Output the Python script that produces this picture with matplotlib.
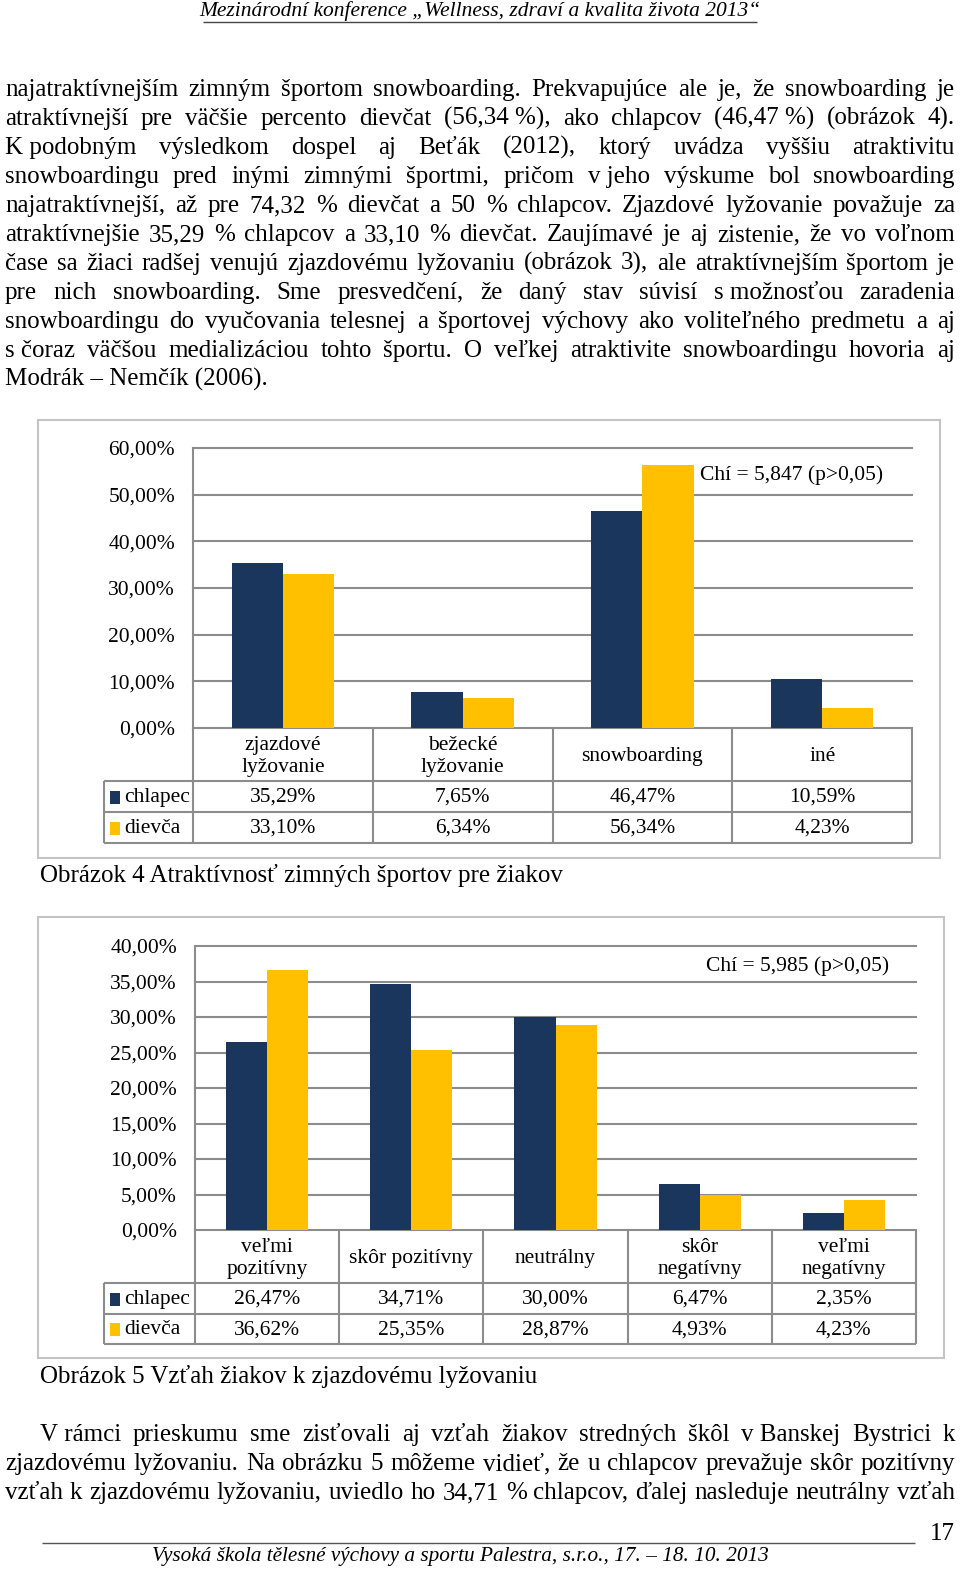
import matplotlib
matplotlib.use('Agg')
import matplotlib.pyplot as plt
from matplotlib.patches import Rectangle
import numpy as np

plt.rcParams['font.family'] = ['Liberation Serif', 'DejaVu Serif']

W, H = 960, 1569
NAVY = '#1b365d'
GOLD = '#ffc000'
GRID = '#8c8c8c'
BODY = 18
CHART_FS = 15.5
NB = '\u00a0'

# --- data ---
series_names = ['chlapec', 'dievča']

sports = ['zjazdové\nlyžovanie', 'bežecké\nlyžovanie', 'snowboarding', 'iné']
sports_boys = [35.29, 7.65, 46.47, 10.59]
sports_girls = [33.10, 6.34, 56.34, 4.23]
sports_chi = 'Chí = 5,847 (p>0,05)'

attitude = ['veľmi\npozitívny', 'skôr pozitívny', 'neutrálny', 'skôr\nnegatívny', 'veľmi\nnegatívny']
attitude_boys = [26.47, 34.71, 30.00, 6.47, 2.35]
attitude_girls = [36.62, 25.35, 28.87, 4.93, 4.23]
attitude_chi = 'Chí = 5,985 (p>0,05)'

header = 'Mezinárodní konference „Wellness, zdraví a kvalita života 2013“'
footer = 'Vysoká škola tělesné výchovy a sportu Palestra, s.r.o., 17. – 18. 10. 2013'
page_no = '17'
caption4 = 'Obrázok 4 Atraktívnosť zimných športov pre žiakov'
caption5 = 'Obrázok 5 Vzťah žiakov k zjazdovému lyžovaniu'

para1 = [
    'najatraktívnejším zimným športom snowboarding. Prekvapujúce ale je, že snowboarding je',
    'atraktívnejší pre väčšie percento dievčat (56,34' + NB + '%), ako chlapcov (46,47' + NB + '%) (obrázok 4).',
    'K' + NB + 'podobným výsledkom dospel aj Beťák (2012), ktorý uvádza vyššiu atraktivitu',
    'snowboardingu pred inými zimnými športmi, pričom v' + NB + 'jeho výskume bol snowboarding',
    'najatraktívnejší, až pre 74,32 % dievčat a 50 % chlapcov. Zjazdové lyžovanie považuje za',
    'atraktívnejšie 35,29 % chlapcov a 33,10 % dievčat. Zaujímavé je aj zistenie, že vo voľnom',
    'čase sa žiaci radšej venujú zjazdovému lyžovaniu (obrázok 3), ale atraktívnejším športom je',
    'pre nich snowboarding. Sme presvedčení, že daný stav súvisí s' + NB + 'možnosťou zaradenia',
    'snowboardingu do vyučovania telesnej a športovej výchovy ako voliteľného predmetu a aj',
    's' + NB + 'čoraz väčšou medializáciou tohto športu. O veľkej atraktivite snowboardingu hovoria aj',
    'Modrák – Nemčík (2006).',
]
para2 = [
    'V' + NB + 'rámci prieskumu sme zisťovali aj vzťah žiakov stredných škôl v' + NB + 'Banskej Bystrici k',
    'zjazdovému lyžovaniu. Na obrázku 5 môžeme vidieť, že u chlapcov prevažuje skôr pozitívny',
    'vzťah k zjazdovému lyžovaniu, uviedlo ho 34,71 % chlapcov, ďalej nasleduje neutrálny vzťah',
]

fig = plt.figure(figsize=(W / 100, H / 100), dpi=100)
page = fig.add_axes([0, 0, 1, 1])
page.set_xlim(0, W)
page.set_ylim(H, 0)
page.axis('off')
renderer = fig.canvas.get_renderer()


def pct(v):
    return f'{v:.2f}%'.replace('.', ',')


def justify(y, line, x0, x1, last=False):
    if last:
        page.text(x0, y, line, fontsize=BODY, va='baseline')
        return
    words = line.split(' ')
    texts = [page.text(0, y, w, fontsize=BODY, va='baseline') for w in words]
    widths = [t.get_window_extent(renderer).width for t in texts]
    gap = (x1 - x0 - sum(widths)) / (len(words) - 1)
    x = x0
    for t, wd in zip(texts, widths):
        t.set_x(x)
        x += wd + gap


def draw_chart(box, plot, cats, boys, girls, ymax, step, chi, chi_xy, rows):
    bx0, by0, bx1, by1 = box
    page.add_patch(Rectangle((bx0, by0), bx1 - bx0, by1 - by0, fill=False,
                             ec='#c4c4c4', lw=1.5))
    l, t, r, b = plot
    ax = fig.add_axes([l / W, 1 - b / H, (r - l) / W, (b - t) / H])
    ax.patch.set_alpha(0)
    n = len(cats)
    x = np.arange(n)
    w = 0.285
    ax.bar(x - w / 2, boys, w, color=NAVY, zorder=3)
    ax.bar(x + w / 2, girls, w, color=GOLD, zorder=3)
    ax.set_xlim(-0.5, n - 0.5)
    ax.set_ylim(0, ymax)
    ticks = np.arange(0, ymax + step / 2, step)
    for tk in ticks:
        ax.axhline(tk, color=GRID, lw=1.5, zorder=1, clip_on=False)
    ax.set_yticks(ticks)
    ax.set_yticklabels([pct(tk) for tk in ticks], fontsize=CHART_FS)
    ax.tick_params(axis='y', length=0, pad=13)
    ax.set_xticks([])
    for s in ['top', 'right', 'bottom']:
        ax.spines[s].set_visible(False)
    ax.spines['left'].set_color(GRID)
    ax.spines['left'].set_linewidth(1.5)
    page.text(chi_xy[0], chi_xy[1], chi, fontsize=CHART_FS, va='center')

    # data table under the plot
    y_hdr = b + rows[0]
    y_r1 = y_hdr + rows[1]
    y_r2 = y_r1 + rows[2]
    tl = 104
    cols = l + (r - l) * np.arange(n + 1) / n
    page.hlines([y_hdr, y_r1, y_r2], tl, r, color=GRID, lw=1.5)
    page.vlines(cols, b, y_r2, color=GRID, lw=1.5)
    page.vlines(tl, y_hdr, y_r2, color=GRID, lw=1.5)
    centers = (cols[:-1] + cols[1:]) / 2
    for cx, cat, bv, gv in zip(centers, cats, boys, girls):
        page.text(cx, (b + y_hdr) / 2 + 2, cat, fontsize=CHART_FS, ha='center',
                  va='center', linespacing=1.2)
        page.text(cx, (y_hdr + y_r1) / 2 + 1, pct(bv), fontsize=CHART_FS, ha='center', va='center')
        page.text(cx, (y_r1 + y_r2) / 2 + 1, pct(gv), fontsize=CHART_FS, ha='center', va='center')
    for (ya, yb), name, col in zip([(y_hdr, y_r1), (y_r1, y_r2)], series_names, [NAVY, GOLD]):
        yc = (ya + yb) / 2
        page.add_patch(Rectangle((110, yc - 6), 10, 13, color=col, lw=0))
        page.text(124, yc + 1, name, fontsize=CHART_FS, va='center')


# header
page.text(480, 11, header, fontsize=15.5, style='italic', ha='center', va='center')
page.hlines(22, 203, 757, color='#444444', lw=1)

# paragraph above
for i, line in enumerate(para1):
    justify(96 + 29 * i, line, 5, 955, last=(i == len(para1) - 1))

draw_chart((38, 420, 940, 858), (193, 448, 912, 728), sports, sports_boys, sports_girls,
           60, 10, sports_chi, (700, 475), (53, 31, 31))
page.text(40, 882, caption4, fontsize=BODY, va='baseline')

draw_chart((38, 917, 944, 1358), (195, 946, 916, 1230), attitude, attitude_boys,
           attitude_girls, 40, 5, attitude_chi, (706, 966), (53, 31, 30))
page.text(40, 1383, caption5, fontsize=BODY, va='baseline')

# paragraph below
justify(1441, para2[0], 40, 955)
justify(1470, para2[1], 5, 955)
justify(1499, para2[2], 5, 955)

# footer
page.text(955, 1534, page_no, fontsize=BODY, ha='right', va='center')
page.hlines(1543, 42, 915, color='#555555', lw=1)
page.text(460, 1556, footer, fontsize=15.3, style='italic', ha='center', va='center')

fig.savefig('out.png', dpi=100)
